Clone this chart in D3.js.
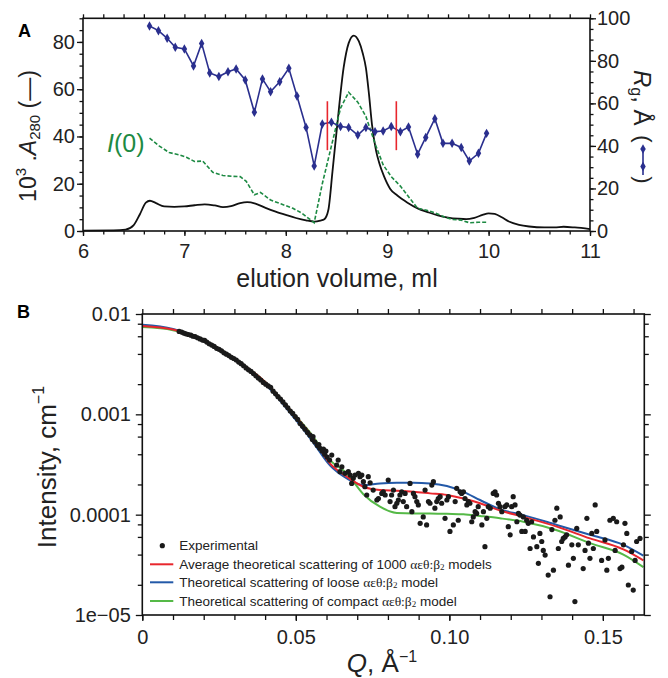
<!DOCTYPE html>
<html>
<head>
<meta charset="utf-8">
<script src="https://cdn.jsdelivr.net/npm/d3@7"></script>
<style>
    body { margin: 0; background: #fff; }
    svg { display: block; font-family: "Liberation Sans", Arial, Helvetica, sans-serif; }
    .axis path { stroke: none; }
    .axis line { stroke: #111; stroke-width: 1.3; }
    .axis text { font-size: 20px; fill: #222; font-family: "Liberation Sans", Arial, sans-serif; }
    .frame { fill: none; stroke: #111; stroke-width: 1.6; }
    .serif { font-family: "Liberation Serif", "Times New Roman", serif; }
</style>
</head>
<body>
<svg id="fig" width="668" height="678"></svg>
<script>
'use strict';

// ---- Panel A: elution profile ----
var a280Volume = [6.0, 6.3, 6.42, 6.5, 6.56, 6.62, 6.66, 6.72, 6.8, 6.9, 7.0, 7.1, 7.2, 7.3, 7.38, 7.46, 7.55, 7.62, 7.7,
    7.8, 7.9, 8.0, 8.1, 8.2, 8.28, 8.34, 8.38, 8.42, 8.46, 8.51, 8.57, 8.62, 8.67, 8.72, 8.76, 8.79, 8.82, 8.85, 8.89,
    8.92, 8.97, 9.03, 9.1, 9.2, 9.3, 9.4, 9.5, 9.6, 9.7, 9.78, 9.86, 9.94, 10.0, 10.06, 10.13, 10.2, 10.3, 10.4,
    10.55, 10.65, 10.74, 10.85, 11.0];
var a280Value = [0.2, 0.3, 0.6, 2.5, 7, 12, 12.8, 11.8, 10.4, 10.2, 10.4, 10.9, 11.3, 10.8, 10.1, 10.5, 11.8, 12.2, 11.6,
    9.8, 8.2, 6.8, 5.5, 4.5, 4.0, 4.4, 5.0, 9, 25, 46, 69, 79.5, 82.7, 80.3, 75, 69, 58, 45, 34,
    29, 23, 17.8, 15, 12, 9.6, 8, 6.6, 5.7, 5.2, 5.0, 5.6, 6.8, 7.5, 7.2, 5.8, 4.0, 2.6, 1.9,
    1.5, 1.5, 1.8, 1.5, 0.8];

var i0Volume = [6.656, 6.75, 6.85, 6.95, 7.02, 7.1, 7.18, 7.28, 7.38, 7.48, 7.55, 7.61, 7.69, 7.75, 7.85, 7.95, 8.07,
    8.16, 8.28, 8.36, 8.45, 8.54, 8.62, 8.71, 8.79, 8.88, 8.96, 9.04, 9.13, 9.22, 9.30, 9.39, 9.48, 9.56, 9.64,
    9.73, 9.81, 9.90, 9.98];
var i0Value = [39.3, 36, 33.2, 32.2, 31.2, 29.4, 29.6, 24.8, 23.5, 23.1, 23, 21, 15.3, 16.3, 13.1, 11.5, 9.6,
    7.5, 3.5, 20, 36, 52, 58.7, 54.5, 48.5, 37, 28, 23, 19, 14, 9.6, 8.8, 7.5, 6, 4.9,
    4.6, 3.5, 3.7, 3.7];

var rgVolume = [6.656, 6.744, 6.83, 6.91, 7.0, 7.09, 7.17, 7.25, 7.34, 7.43, 7.51, 7.60, 7.69, 7.77, 7.85, 7.94, 8.03,
    8.11, 8.20, 8.28, 8.36, 8.45, 8.54, 8.62, 8.71, 8.79, 8.88, 8.96, 9.04, 9.13, 9.21, 9.30, 9.38, 9.47, 9.55,
    9.64, 9.73, 9.81, 9.90, 9.98];
var rgValue = [96.4, 94.2, 90.6, 86.4, 85.6, 77.6, 88.2, 74.3, 72.6, 74.9, 76.2, 71.0, 55.8, 71.5, 65.5, 70.2, 76.5,
    63.5, 48.7, 30.6, 50.3, 51.1, 49.1, 48.7, 45.1, 48.7, 46.7, 47.0, 49.1, 46.7, 48.9, 36.1, 44.0, 52.8, 41.2,
    41.2, 39.3, 32.9, 36.5, 45.9];

// fractions pooled for SAXS (red markers)
var cutVolume = [8.41, 9.09];
var cutRgRange = [38, 61];

var volumeTicks = [6, 7, 8, 9, 10, 11];
var a280Ticks = [0, 20, 40, 60, 80];
var rgTicks = [0, 20, 40, 60, 80, 100];

// ---- Panel B: scattering curves ----
var modelQ = [0, 0.01, 0.02, 0.03, 0.04, 0.05, 0.055, 0.0611, 0.0666, 0.072, 0.0774, 0.0829, 0.0883, 0.0937,
    0.0992, 0.1046, 0.11, 0.1165, 0.1241, 0.135, 0.1458, 0.1567, 0.1632];
var averageI = [7.6e-3, 7.0e-3, 5.5e-3, 3.6e-3, 2.1e-3, 9.5e-4, 6.2e-4, 3.25e-4, 2.39e-4, 1.9e-4, 1.76e-4, 1.73e-4,
    1.69e-4, 1.63e-4, 1.57e-4, 1.45e-4, 1.3e-4, 1.1e-4, 9.5e-5, 7.6e-5, 5.8e-5, 4.5e-5, 3.5e-5];
var looseI = [7.8e-3, 7.1e-3, 5.5e-3, 3.5e-3, 2.0e-3, 8.8e-4, 5.6e-4, 3.1e-4, 2.3e-4, 1.97e-4, 2.05e-4, 2.08e-4,
    2.08e-4, 2.05e-4, 1.93e-4, 1.69e-4, 1.4e-4, 1.13e-4, 9.9e-5, 7.9e-5, 6.3e-5, 5.0e-5, 3.9e-5];
var compactI = [7.4e-3, 6.9e-3, 5.5e-3, 3.6e-3, 2.1e-3, 9.6e-4, 6.4e-4, 3.5e-4, 2.58e-4, 1.6e-4, 1.2e-4, 1.04e-4,
    1.03e-4, 1.03e-4, 1.02e-4, 1.01e-4, 9.7e-5, 9.2e-5, 8.5e-5, 7.0e-5, 5.2e-5, 4.0e-5, 3.0e-5];

var experimental = [
    [0.0120, 6.7e-3], [0.0128, 6.6e-3], [0.0135, 6.45e-3], [0.0142, 6.35e-3], [0.0150, 6.25e-3], [0.0158, 6.15e-3],
    [0.0165, 6.0e-3], [0.0172, 5.95e-3], [0.0180, 5.8e-3], [0.0188, 5.65e-3], [0.0196, 5.5e-3], [0.0203, 5.45e-3],
    [0.0210, 5.25e-3], [0.0218, 5.05e-3], [0.0226, 4.9e-3], [0.0234, 4.75e-3], [0.0242, 4.55e-3], [0.0250, 4.45e-3],
    [0.0258, 4.3e-3], [0.0266, 4.1e-3], [0.0274, 3.98e-3], [0.0282, 3.85e-3], [0.0290, 3.7e-3], [0.0298, 3.6e-3],
    [0.0306, 3.48e-3], [0.0314, 3.32e-3], [0.0322, 3.2e-3], [0.0330, 3.05e-3], [0.0338, 2.9e-3], [0.0346, 2.78e-3],
    [0.0354, 2.68e-3], [0.0362, 2.55e-3], [0.0370, 2.42e-3], [0.0378, 2.3e-3], [0.0386, 2.2e-3], [0.0394, 2.08e-3],
    [0.0402, 2.0e-3], [0.0410, 1.92e-3], [0.0418, 1.86e-3], [0.0426, 1.7e-3], [0.0434, 1.6e-3], [0.0442, 1.5e-3],
    [0.0450, 1.42e-3], [0.0458, 1.33e-3], [0.0466, 1.24e-3], [0.0474, 1.16e-3], [0.0482, 1.08e-3], [0.0490, 1.02e-3],
    [0.0498, 9.5e-4], [0.0506, 8.9e-4], [0.0514, 8.1e-4], [0.0522, 7.6e-4], [0.0530, 7.1e-4], [0.0538, 6.6e-4],
    [0.0546, 6.2e-4], [0.0554, 5.6e-4], [0.0556, 6.0e-4], [0.0562, 5.3e-4], [0.0570, 4.9e-4], [0.0575, 5.0e-4],
    [0.0578, 4.6e-4], [0.0586, 4.3e-4], [0.0590, 4.5e-4], [0.0594, 4.0e-4], [0.0598, 4.3e-4], [0.0602, 3.75e-4],
    [0.0610, 3.5e-4],
    [0.0617, 3.93e-4], [0.0638, 3.5e-4], [0.0633, 3.12e-4], [0.0650, 3.0e-4], [0.0644, 2.68e-4], [0.0660, 2.58e-4],
    [0.0671, 2.68e-4], [0.0677, 2.48e-4], [0.0687, 2.3e-4], [0.0693, 2.48e-4], [0.0704, 2.58e-4], [0.0709, 2.39e-4],
    [0.0715, 2.48e-4], [0.0682, 2.05e-4], [0.0720, 2.13e-4], [0.0725, 1.9e-4], [0.0736, 2.39e-4], [0.0742, 2.08e-4],
    [0.0752, 1.76e-4], [0.0731, 1.57e-4], [0.0764, 1.4e-4], [0.0769, 1.45e-4], [0.0780, 1.63e-4], [0.0785, 1.69e-4],
    [0.0791, 1.57e-4], [0.0801, 2.21e-4], [0.0807, 1.35e-4], [0.0812, 1.57e-4], [0.0818, 1.76e-4], [0.0823, 1.2e-4],
    [0.0829, 1.3e-4], [0.0834, 1.4e-4], [0.0839, 1.57e-4], [0.0845, 1.69e-4], [0.0850, 1.35e-4], [0.0856, 1.63e-4],
    [0.0861, 1.2e-4], [0.0872, 2.05e-4], [0.0878, 1.07e-4], [0.0883, 1.63e-4], [0.0888, 1.51e-4], [0.0894, 1.35e-4],
    [0.0899, 1.25e-4], [0.0905, 8.2e-5], [0.0915, 9.5e-5], [0.0921, 1.76e-4], [0.0926, 7.9e-5], [0.0932, 1.35e-4],
    [0.0937, 1.3e-4], [0.0943, 1.97e-4], [0.0948, 2.13e-4], [0.0953, 1.16e-4], [0.0959, 1.35e-4], [0.0964, 1.45e-4],
    [0.0970, 1.51e-4], [0.0975, 1.3e-4], [0.0986, 9.2e-5], [0.0992, 1.4e-4], [0.0997, 1.51e-4], [0.1002, 6.8e-5],
    [0.1013, 7.9e-5], [0.1019, 1.35e-4], [0.1024, 1.83e-4], [0.1029, 8.8e-5], [0.1035, 1.69e-4], [0.1040, 1.63e-4],
    [0.1046, 1.69e-4], [0.1051, 1.45e-4], [0.1057, 1.25e-4], [0.1062, 1.35e-4], [0.1067, 1.3e-4], [0.1073, 8.5e-5],
    [0.1078, 9.5e-5], [0.1084, 1.07e-4], [0.1089, 1.03e-4], [0.1094, 1.2e-4], [0.1106, 7.9e-5], [0.1111, 1.07e-4],
    [0.1116, 4.8e-5], [0.1122, 9.2e-5], [0.1127, 1.2e-4], [0.1133, 1.16e-4], [0.1143, 1.63e-4], [0.1149, 1.69e-4],
    [0.1154, 1.57e-4],
    [0.1160, 1.3e-4], [0.1165, 1.2e-4], [0.1171, 1.07e-4], [0.1181, 1.2e-4], [0.1187, 1.25e-4], [0.1192, 7.6e-5],
    [0.1198, 6.3e-5], [0.1203, 1.2e-4], [0.1208, 1.51e-4], [0.1214, 1.25e-4], [0.1220, 8.5e-5], [0.1225, 1.03e-4],
    [0.1230, 9.9e-5], [0.1236, 6.8e-5], [0.1241, 9.5e-5], [0.1247, 6.8e-5], [0.1252, 8.8e-5], [0.1257, 8.2e-5],
    [0.1263, 4.6e-5], [0.1268, 8.5e-5], [0.1274, 6.0e-5], [0.1285, 4.8e-5], [0.1290, 3.27e-5], [0.1295, 6.5e-5],
    [0.1301, 5.4e-5], [0.1306, 4.4e-5], [0.1312, 3.96e-5], [0.1322, 2.5e-5], [0.1328, 1.52e-5], [0.1334, 7.1e-5],
    [0.1339, 2.8e-5], [0.1344, 8.8e-5], [0.1350, 1.16e-4], [0.1355, 4.6e-5], [0.1361, 9.5e-5], [0.1366, 5.4e-5],
    [0.1371, 5.8e-5], [0.1377, 6.0e-5], [0.1382, 6.3e-5], [0.1388, 3.14e-5], [0.1399, 5.0e-5], [0.1404, 3.67e-5],
    [0.1409, 1.36e-5], [0.1415, 7.3e-5], [0.1420, 5.0e-5], [0.1436, 2.9e-5], [0.1442, 4.4e-5], [0.1448, 9.2e-5],
    [0.1453, 5.2e-5], [0.1458, 3.67e-5], [0.1464, 6.5e-5], [0.1469, 4.6e-5], [0.1475, 1.25e-4], [0.1480, 6.8e-5],
    [0.1496, 3.5e-5], [0.1507, 5.6e-5], [0.1513, 2.8e-5], [0.1518, 3.67e-5], [0.1523, 8.8e-5], [0.1534, 9.2e-5],
    [0.1540, 4.4e-5], [0.1545, 8.5e-5], [0.1556, 2.9e-5], [0.1562, 3.0e-5], [0.1567, 5.0e-5], [0.1572, 8.2e-5],
    [0.1578, 6.5e-5], [0.1583, 1.99e-5], [0.1594, 4.3e-5], [0.1599, 1.77e-5], [0.1605, 3.5e-5], [0.1610, 5.4e-5],
    [0.1621, 5.8e-5]
];

var qTicks = [0, 0.05, 0.10, 0.15];
var intensityTicks = [1e-5, 1e-4, 1e-3, 1e-2];
var intensityLabels = ['1e\u221205', '0.0001', '0.001', '0.01'];

var colors = {
    black: '#111',
    rgBlue: '#2a2f8e',
    i0Green: '#1d8a43',
    cut: '#e8262d',
    average: '#e8262d',
    loose: '#2359a8',
    compact: '#55b947'
};

var svg = d3.select('#fig');

function zip(xs, ys) {
    return xs.map(function (x, i) { return [x, ys[i]]; });
}

function panelA() {
    var box = { left: 83, right: 590, top: 18.3, bottom: 231 };
    var x = d3.scaleLinear().domain([6, 11]).range([box.left, box.right]);
    var y = d3.scaleLinear().domain([0, 90]).range([box.bottom, box.top]);
    var yRg = d3.scaleLinear().domain([0, 100]).range([box.bottom, box.top]);
    var g = svg.append('g').attr('class', 'panel-a');

    //ejes
    g.append('g').attr('class', 'axis').attr('transform', 'translate(0,' + box.bottom + ')')
        .call(d3.axisBottom(x).tickValues(d3.range(6, 11.01, 0.2)).tickSize(3.5).tickFormat(''));
    g.append('g').attr('class', 'axis').attr('transform', 'translate(0,' + box.bottom + ')')
        .call(d3.axisBottom(x).tickValues(volumeTicks).tickSize(5).tickPadding(8).tickFormat(d3.format('d')));
    g.append('g').attr('class', 'axis').attr('transform', 'translate(0,' + box.top + ')')
        .call(d3.axisTop(x).tickValues(d3.range(6, 11.01, 0.2)).tickSize(4).tickFormat(''));
    g.append('g').attr('class', 'axis').attr('transform', 'translate(' + box.left + ',0)')
        .call(d3.axisLeft(y).tickValues(d3.range(0, 91, 5)).tickSize(3.5).tickFormat(''));
    g.append('g').attr('class', 'axis').attr('transform', 'translate(' + box.left + ',0)')
        .call(d3.axisLeft(y).tickValues(a280Ticks).tickSize(6).tickPadding(2));
    g.append('g').attr('class', 'axis').attr('transform', 'translate(' + box.right + ',0)')
        .call(d3.axisRight(yRg).tickValues(d3.range(0, 101, 5)).tickSize(3.5).tickFormat(''));
    g.append('g').attr('class', 'axis').attr('transform', 'translate(' + box.right + ',0)')
        .call(d3.axisRight(yRg).tickValues(rgTicks).tickSize(6).tickPadding(1));

    var plot = g.append('g');

    var lineA = d3.line().x(function (d) { return x(d[0]); }).y(function (d) { return y(d[1]); })
        .curve(d3.curveMonotoneX);
    plot.append('path').datum(zip(a280Volume, a280Value)).attr('d', lineA)
        .attr('fill', 'none').attr('stroke', colors.black).attr('stroke-width', 1.8);

    var lineI0 = d3.line().x(function (d) { return x(d[0]); }).y(function (d) { return y(d[1]); });
    plot.append('path').datum(zip(i0Volume, i0Value)).attr('d', lineI0)
        .attr('fill', 'none').attr('stroke', colors.i0Green).attr('stroke-width', 1.6)
        .attr('stroke-dasharray', '4,2');

    var lineRg = d3.line().x(function (d) { return x(d[0]); }).y(function (d) { return yRg(d[1]); });
    var rgData = zip(rgVolume, rgValue);
    plot.append('path').datum(rgData).attr('d', lineRg)
        .attr('fill', 'none').attr('stroke', colors.rgBlue).attr('stroke-width', 1.6);
    var diamond = d3.symbol().type(d3.symbolDiamond).size(26);
    plot.selectAll('.rg-pt').data(rgData).enter().append('path').attr('class', 'rg-pt')
        .attr('transform', function (d) { return 'translate(' + x(d[0]) + ',' + yRg(d[1]) + ')'; })
        .attr('d', diamond).attr('fill', colors.rgBlue);

    plot.selectAll('.cut').data(cutVolume).enter().append('line').attr('class', 'cut')
        .attr('x1', function (d) { return x(d); }).attr('x2', function (d) { return x(d); })
        .attr('y1', yRg(cutRgRange[0])).attr('y2', yRg(cutRgRange[1]))
        .attr('stroke', colors.cut).attr('stroke-width', 1.6);

    g.append('rect').attr('class', 'frame').attr('x', box.left).attr('y', box.top)
        .attr('width', box.right - box.left).attr('height', box.bottom - box.top);

    //textos
    g.append('text').attr('x', 18).attr('y', 37).attr('font-size', 18).attr('font-weight', 'bold').text('A');

    g.append('text').attr('x', (box.left + box.right) / 2 + 0.5).attr('y', 287)
        .attr('text-anchor', 'middle').attr('font-size', 25).attr('fill', '#222').text('elution volume, ml');

    var yl = g.append('text').attr('transform', 'translate(28,136) rotate(-90)')
        .attr('text-anchor', 'middle').attr('dominant-baseline', 'central')
        .attr('font-size', 23).attr('fill', '#222');
    yl.append('tspan').text('10');
    yl.append('tspan').attr('dy', -8).attr('font-size', 15).text('3');
    yl.append('tspan').attr('dy', 8).text(' .');
    yl.append('tspan').attr('font-style', 'italic').text('A');
    yl.append('tspan').attr('dy', 6).attr('font-size', 15).text('280');
    yl.append('tspan').attr('dy', -6).text(' (\u2014)');

    var i0 = g.append('text').attr('x', 107).attr('y', 152).attr('font-size', 25).attr('fill', colors.i0Green);
    i0.append('tspan').attr('font-style', 'italic').text('I');
    i0.append('tspan').text('(0)');

    var yr = g.append('text').attr('transform', 'translate(643,70) rotate(90)')
        .attr('text-anchor', 'start').attr('dominant-baseline', 'central')
        .attr('font-size', 24).attr('fill', '#222');
    yr.append('tspan').attr('font-style', 'italic').text('R');
    yr.append('tspan').attr('dy', 6).attr('font-size', 16).text('g');
    yr.append('tspan').attr('dy', -6).text(', \u00c5');

    g.append('text').attr('transform', 'translate(643,139) rotate(90)').attr('text-anchor', 'middle')
        .attr('dominant-baseline', 'central').attr('font-size', 22).attr('fill', '#222').text('(');
    g.append('text').attr('transform', 'translate(643,180) rotate(90)').attr('text-anchor', 'middle')
        .attr('dominant-baseline', 'central').attr('font-size', 22).attr('fill', '#222').text(')');
    g.append('line').attr('x1', 643).attr('x2', 643).attr('y1', 147).attr('y2', 175)
        .attr('stroke', colors.rgBlue).attr('stroke-width', 1.6);
    g.selectAll('.key-pt').data([149, 166.5]).enter().append('path').attr('class', 'key-pt')
        .attr('transform', function (d) { return 'translate(643,' + d + ')'; })
        .attr('d', diamond).attr('fill', colors.rgBlue);
}

function panelB() {
    var box = { left: 142.3, right: 644.3, top: 314, bottom: 615 };
    var x = d3.scaleLinear().domain([0, 0.1635]).range([box.left, box.right]);
    var y = d3.scaleLog().domain([1e-5, 1e-2]).range([box.bottom, box.top]);
    var g = svg.append('g').attr('class', 'panel-b');

    var minorQ = d3.range(0, 0.1605, 0.01);
    var minorI = [];
    [1e-5, 1e-4, 1e-3].forEach(function (dec) {
        [2, 4, 6, 8].forEach(function (m) { minorI.push(m * dec); });
    });

    g.append('g').attr('class', 'axis').attr('transform', 'translate(0,' + box.bottom + ')')
        .call(d3.axisBottom(x).tickValues(minorQ).tickSize(5).tickFormat(''));
    g.append('g').attr('class', 'axis').attr('transform', 'translate(0,' + box.bottom + ')')
        .call(d3.axisBottom(x).tickValues(qTicks).tickSize(6).tickPadding(9)
            .tickFormat(function (d) { return d === 0 ? '0' : d3.format('.2f')(d); }));
    g.append('g').attr('class', 'axis').attr('transform', 'translate(0,' + box.top + ')')
        .call(d3.axisTop(x).tickValues(minorQ).tickSize(5).tickFormat(''));
    g.append('g').attr('class', 'axis').attr('transform', 'translate(' + box.left + ',0)')
        .call(d3.axisLeft(y).tickValues(minorI).tickSize(4.5).tickFormat(''));
    g.append('g').attr('class', 'axis').attr('transform', 'translate(' + box.left + ',0)')
        .call(d3.axisLeft(y).tickValues(intensityTicks).tickSize(6.5).tickPadding(5)
            .tickFormat(function (d, i) { return intensityLabels[i]; }));
    g.append('g').attr('class', 'axis').attr('transform', 'translate(' + box.right + ',0)')
        .call(d3.axisRight(y).tickValues(minorI).tickSize(4.5).tickFormat(''));
    g.append('g').attr('class', 'axis').attr('transform', 'translate(' + box.right + ',0)')
        .call(d3.axisRight(y).tickValues(intensityTicks).tickSize(6.5).tickFormat(''));

    var line = d3.line().x(function (d) { return x(d[0]); }).y(function (d) { return y(d[1]); })
        .curve(d3.curveMonotoneX);
    [[looseI, colors.loose], [compactI, colors.compact], [averageI, colors.average]].forEach(function (s) {
        g.append('path').datum(zip(modelQ, s[0])).attr('d', line)
            .attr('fill', 'none').attr('stroke', s[1]).attr('stroke-width', 2);
    });

    g.selectAll('.exp').data(experimental).enter().append('circle').attr('class', 'exp')
        .attr('cx', function (d) { return x(d[0]); }).attr('cy', function (d) { return y(d[1]); })
        .attr('r', 2.6).attr('fill', '#1a1a1a');

    g.append('rect').attr('class', 'frame').attr('x', box.left).attr('y', box.top)
        .attr('width', box.right - box.left).attr('height', box.bottom - box.top);

    //leyenda
    var legend = g.append('g').attr('class', 'legend').attr('font-size', 13.5).attr('fill', '#222');
    legend.append('circle').attr('cx', 162.3).attr('cy', 545.7).attr('r', 2.6).attr('fill', '#1a1a1a');
    legend.append('text').attr('x', 179.3).attr('y', 545.7).attr('dominant-baseline', 'central').text('Experimental');

    var entries = [
        [colors.average, 564.3, 'Average theoretical scattering of 1000 ', ' models'],
        [colors.loose, 582.3, 'Theoretical scattering of loose ', ' model'],
        [colors.compact, 601, 'Theoretical scattering of compact ', ' model']
    ];
    entries.forEach(function (e) {
        legend.append('line').attr('x1', 150).attr('x2', 173.3).attr('y1', e[1]).attr('y2', e[1])
            .attr('stroke', e[0]).attr('stroke-width', 2);
        var t = legend.append('text').attr('x', 179.3).attr('y', e[1]).attr('dominant-baseline', 'central');
        t.append('tspan').text(e[2]);
        t.append('tspan').attr('class', 'serif').text('\u03b1\u03b5\u03b8:\u03b2');
        t.append('tspan').attr('class', 'serif').attr('font-size', 9).attr('dy', 3).text('2');
        t.append('tspan').attr('dy', -3).text(e[3]);
    });

    //textos
    g.append('text').attr('x', 17).attr('y', 318).attr('font-size', 18).attr('font-weight', 'bold').text('B');

    var yl = g.append('text').attr('transform', 'translate(47,467) rotate(-90)')
        .attr('text-anchor', 'middle').attr('dominant-baseline', 'central')
        .attr('font-size', 26).attr('fill', '#222');
    yl.append('tspan').text('Intensity, cm');
    yl.append('tspan').attr('dy', -9).attr('font-size', 16).text('\u22121');

    var xl = g.append('text').attr('x', 382).attr('y', 672).attr('text-anchor', 'middle')
        .attr('font-size', 26).attr('fill', '#222');
    xl.append('tspan').attr('font-style', 'italic').text('Q');
    xl.append('tspan').text(', \u00c5');
    xl.append('tspan').attr('dy', -10).attr('font-size', 16).text('\u22121');
}

panelA();
panelB();
</script>
</body>
</html>
